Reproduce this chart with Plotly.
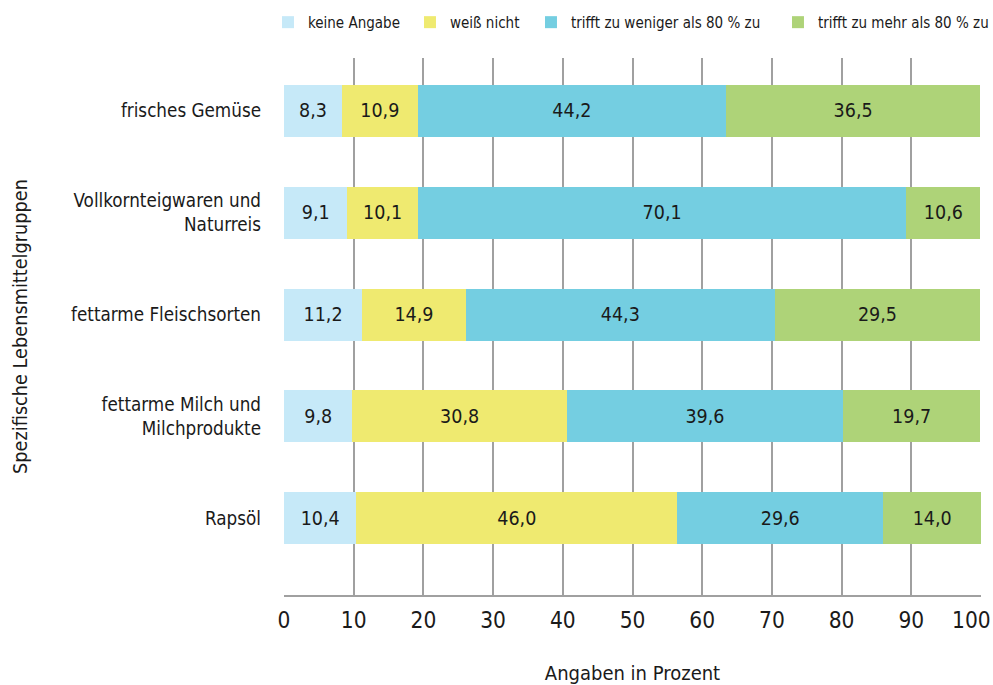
import plotly.graph_objects as go

categories = ["frisches Gemüse", "Vollkornteigwaren und<br>Naturreis", "fettarme Fleischsorten",
              "fettarme Milch und<br>Milchprodukte", "Rapsöl"]
keine_angabe = [8.3, 9.1, 11.2, 9.8, 10.4]
weiss_nicht = [10.9, 10.1, 14.9, 30.8, 46.0]
weniger_80 = [44.2, 70.1, 44.3, 39.6, 29.6]
mehr_80 = [36.5, 10.6, 29.5, 19.7, 14.0]
series_names = ["keine Angabe", "weiß nicht", "trifft zu weniger als 80 % zu", "trifft zu mehr als 80 % zu"]
colors = ["#C6E9F8", "#EFEA70", "#74CEE1", "#AED378"]
legend_widths = [97, 76, 202, 185]
x_ticks = [0, 10, 20, 30, 40, 50, 60, 70, 80, 90, 100]

FONT = "DejaVu Sans Condensed, Liberation Sans Narrow, Liberation Sans, sans-serif"

fig = go.Figure()
for name, vals, col, lw in zip(series_names, [keine_angabe, weiss_nicht, weniger_80, mehr_80], colors, legend_widths):
    fig.add_trace(go.Bar(
        y=categories, x=vals, name=name, orientation="h",
        marker=dict(color=col, line=dict(width=0)),
        text=[f"{v:.1f}".replace(".", ",") for v in vals],
        textposition="inside", insidetextanchor="middle",
        textfont=dict(family=FONT, size=19.5, color="#1a1a1a"),
        width=0.51, legendwidth=lw,
    ))

tick_text = [str(t) for t in x_ticks]
tick_text[-1] = tick_text[-1] + "\u00a0\u00a0\u00a0"

fig.update_layout(
    barmode="stack",
    width=993, height=685,
    margin=dict(l=284, r=12, t=58, b=90, autoexpand=False),
    plot_bgcolor="white", paper_bgcolor="white",
    font=dict(family=FONT, size=18.5, color="#1a1a1a"),
    showlegend=True,
    legend=dict(orientation="h", x=-0.023, xanchor="left", y=1.097, yanchor="top",
                yref="paper", font=dict(size=15, family=FONT), traceorder="normal",
                itemclick=False, itemwidth=30),
    xaxis=dict(range=[0, 100], tickvals=x_ticks, ticktext=tick_text,
               showgrid=True, gridcolor="#A0A0A0", gridwidth=1.5, zeroline=False,
               showline=True, linecolor="#A0A0A0", linewidth=1.5, ticks="",
               tickfont=dict(size=22.5), ticklabelstandoff=4, ticklabeloverflow="allow",
               automargin=False,
               title=dict(text="Angaben in Prozent", font=dict(size=20), standoff=37)),
    yaxis=dict(categoryorder="array", categoryarray=categories, range=[4.755, -0.52],
               showgrid=False, zeroline=False, showline=False, ticks="",
               ticklabelstandoff=22, tickfont=dict(size=18.7), automargin=False,
               title=dict(text="Spezifische Lebensmittelgruppen", font=dict(size=19.7), standoff=38)),
)
fig.write_html("out.html", config={"displayModeBar": False},
               post_script="document.body.style.margin='0';document.body.style.overflow='hidden';")
